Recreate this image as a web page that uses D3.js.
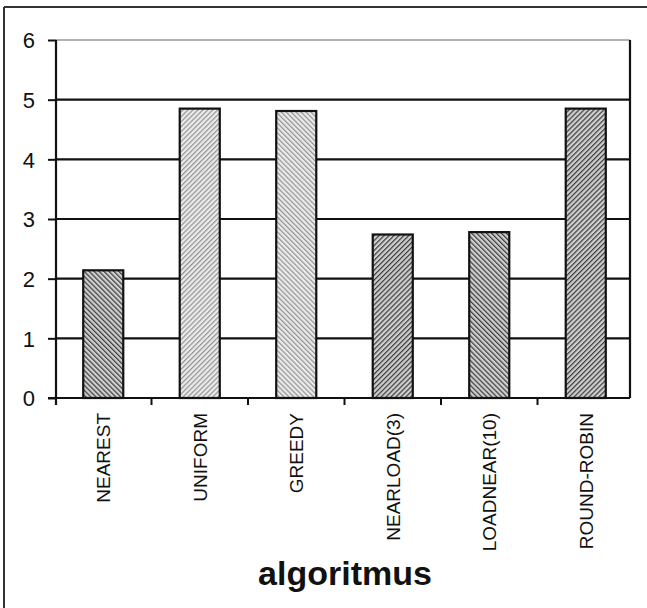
<!DOCTYPE html>
<html>
<head>
<meta charset="utf-8">
<script src="https://cdn.jsdelivr.net/npm/d3@7/dist/d3.min.js"></script>
<style>
  html, body { margin: 0; padding: 0; background: #fff; }
  svg { display: block; }
  text { font-family: "Liberation Sans", Arial, sans-serif; fill: #111; }
</style>
</head>
<body>
<script>
// Algorithms compared and their measured values
const categories = ["NEAREST", "UNIFORM", "GREEDY", "NEARLOAD(3)", "LOADNEAR(10)", "ROUND-ROBIN"];
const values = [2.14, 4.85, 4.81, 2.74, 2.78, 4.85];
// Hatch style per bar: dark or light fill, and stroke direction
const hatchStyle = ["darkB", "lightF", "lightB", "darkF", "darkB", "darkF"];
const yTicks = [0, 1, 2, 3, 4, 5, 6];
const xTitle = "algoritmus";

const W = 647, H = 608;
const plot = { left: 56, right: 630, top: 40, bottom: 398 };

const svg = d3.select("body").append("svg")
  .attr("width", W).attr("height", H);

// Hatch patterns
const defs = svg.append("defs");
const patternDefs = {
  darkB:  { bg: "#cfcfcf", fg: "#3a3a3a", dir: -1 },
  darkF:  { bg: "#cfcfcf", fg: "#3a3a3a", dir: 1 },
  lightB: { bg: "#ebebeb", fg: "#929292", dir: -1 },
  lightF: { bg: "#ebebeb", fg: "#929292", dir: 1 }
};
Object.entries(patternDefs).forEach(([id, p]) => {
  const pat = defs.append("pattern")
    .attr("id", "hatch-" + id)
    .attr("patternUnits", "userSpaceOnUse")
    .attr("width", 3.5).attr("height", 3.5)
    .attr("patternTransform", `rotate(${p.dir * 45})`);
  pat.append("rect").attr("width", 3.5).attr("height", 3.5).attr("fill", p.bg);
  pat.append("rect").attr("x", 0).attr("y", 0).attr("width", 1.2).attr("height", 3.5).attr("fill", p.fg);
});

// Outer frame (left and top edges)
svg.append("line").attr("x1", 4).attr("x2", 4).attr("y1", 7).attr("y2", H)
  .attr("stroke", "#333").attr("stroke-width", 2);
svg.append("line").attr("x1", 4).attr("x2", W).attr("y1", 7).attr("y2", 7)
  .attr("stroke", "#333").attr("stroke-width", 2);

const x = d3.scaleBand()
  .domain(categories)
  .range([55, 634])
  .paddingInner(0.585)
  .paddingOuter(0.2925);

const y = d3.scaleLinear()
  .domain([0, 6])
  .range([plot.bottom, plot.top]);

// Horizontal gridlines
svg.append("g").selectAll("line")
  .data(yTicks.filter(t => t > 0))
  .join("line")
  .attr("x1", plot.left).attr("x2", plot.right)
  .attr("y1", d => y(d)).attr("y2", d => y(d))
  .attr("stroke", d => d === 6 ? "#999" : "#111")
  .attr("stroke-width", d => d === 6 ? 1.5 : 2.2);

// Right edge of plot area
svg.append("line")
  .attr("x1", plot.right).attr("x2", plot.right)
  .attr("y1", y(6)).attr("y2", plot.bottom)
  .attr("stroke", "#111").attr("stroke-width", 2.2);

// Bars
svg.append("g").selectAll("rect")
  .data(categories)
  .join("rect")
  .attr("x", d => x(d))
  .attr("width", x.bandwidth())
  .attr("y", (d, i) => y(values[i]))
  .attr("height", (d, i) => y(0) - y(values[i]))
  .attr("fill", (d, i) => `url(#hatch-${hatchStyle[i]})`)
  .attr("stroke", "#111")
  .attr("stroke-width", 2.2);

// Y axis
const yAxis = svg.append("g")
  .attr("transform", `translate(${plot.left},0)`)
  .call(d3.axisLeft(y).tickValues(yTicks).tickSize(8).tickPadding(13).tickFormat(d3.format("d")));
yAxis.select(".domain").attr("stroke", "#111").attr("stroke-width", 2.2)
  .attr("d", `M0,${y(6)}V${plot.bottom + 7}`);
yAxis.selectAll(".tick line").attr("stroke", "#111").attr("stroke-width", 2);
yAxis.selectAll(".tick text")
  .attr("font-size", 22)
  .attr("dy", "0.36em")
  .style("font-family", "'Liberation Sans', Arial, sans-serif")
  .attr("fill", "#111");

// X axis: ticks at category boundaries
const boundaries = categories.map(c => x(c) - x.step() * x.paddingInner() / 2);
boundaries.push(x.range()[1]);
svg.append("line")
  .attr("x1", plot.left - 8).attr("x2", plot.right)
  .attr("y1", plot.bottom).attr("y2", plot.bottom)
  .attr("stroke", "#111").attr("stroke-width", 2.2);
svg.append("g").selectAll("line")
  .data(boundaries.slice(1, -1))
  .join("line")
  .attr("x1", d => d).attr("x2", d => d)
  .attr("y1", plot.bottom).attr("y2", plot.bottom + 7)
  .attr("stroke", "#111").attr("stroke-width", 2);

// Category labels, rotated
const labelSize = 19;
svg.append("g").selectAll("text")
  .data(categories)
  .join("text")
  .attr("transform", d => `translate(${x(d) + x.bandwidth() / 2 + labelSize * 0.36},${plot.bottom + 15}) rotate(-90)`)
  .attr("text-anchor", "end")
  .attr("font-size", labelSize)
  .text(d => d);

// Axis title
svg.append("text")
  .attr("x", 345).attr("y", 585)
  .attr("text-anchor", "middle")
  .attr("font-size", 34)
  .attr("font-weight", "bold")
  .text(xTitle);
</script>
</body>
</html>
